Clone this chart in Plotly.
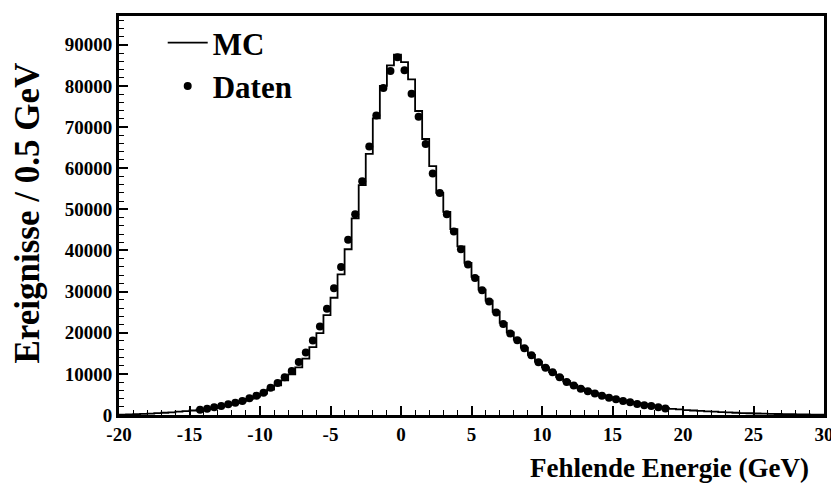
import plotly.graph_objects as go

# ---- data ----
bin_width = 0.5
mc_centers = [-19.75 + 0.5 * i for i in range(100)]
mc_values = [
    100, 150, 200, 280, 350, 450, 550, 650, 800, 950,
    1100, 1300, 1500, 1800, 2100, 2500, 2900, 3300, 3900, 4500,
    5200, 6200, 7200, 8400, 9900, 11600, 13700, 16500, 19900, 24300,
    28500, 34200, 40300, 47800, 55900, 63500, 72100, 80000, 85000, 87600,
    85800, 81600, 73900, 67100, 60500, 54000, 49400, 45200, 41000, 37000,
    33600, 30500, 27800, 25100, 22400, 20100, 18300, 16400, 14600, 13000,
    11600, 10400, 9300, 8200, 7300, 6500, 5900, 5300, 4800, 4300,
    3800, 3400, 3100, 2800, 2500, 2200, 1900, 1700, 1500, 1350,
    1200, 1100, 1000, 900, 800, 700, 620, 550, 480, 420,
    370, 320, 280, 240, 210, 180, 150, 130, 110, 90,
]

data_centers = [-14.25 + 0.5 * i for i in range(67)]
data_values = [
    1300, 1500, 1900, 2200, 2600, 3000, 3400, 4100, 4700, 5400,
    6600, 7800, 9200, 10700, 12900, 15200, 18100, 21500, 25800, 30800,
    36000, 42600, 48800, 56800, 65300, 72800, 79500, 83600, 87000, 83800,
    78100, 72500, 65900, 58700, 54000, 48800, 44600, 40300, 36600, 33300,
    30300, 27600, 24900, 22100, 19800, 18200, 16200, 14500, 12800, 11500,
    10400, 9200, 8000, 7200, 6400, 5800, 5200, 4700, 4200, 3800,
    3400, 3100, 2700, 2400, 2200, 1900, 1600,
]

x_ticks = [-20, -15, -10, -5, 0, 5, 10, 15, 20, 25, 30]
x_tick_text = ["-20", "-15", "-10", "-5", "0", "5", "10", "15", "20", "25", "30"]
y_ticks = [0, 10000, 20000, 30000, 40000, 50000, 60000, 70000, 80000, 90000]
y_tick_text = ["0", "10000", "20000", "30000", "40000", "50000", "60000", "70000", "80000", "90000"]

# step-histogram outline from bin edges
step_x = [c - bin_width / 2 for c in mc_centers] + [mc_centers[-1] + bin_width / 2]
step_y = mc_values + [mc_values[-1]]

FONT = "Liberation Serif"

fig = go.Figure()
fig.add_trace(go.Scatter(
    x=step_x, y=step_y, mode="lines", line=dict(shape="hv", color="black", width=1.8),
    name="MC", legendgroup="mc",
))
fig.add_trace(go.Scatter(
    x=data_centers, y=data_values, mode="markers",
    marker=dict(color="black", size=8, symbol="circle"),
    name="Daten", legendgroup="data",
))

axis_common = dict(
    showgrid=False, zeroline=False, showline=True, linecolor="black", linewidth=3,
    mirror=True, ticks="inside", tickcolor="black", tickwidth=1.5,
    tickfont=dict(family=FONT, size=19, color="black", weight="bold"),
)

fig.update_layout(
    width=831, height=484,
    margin=dict(l=111, r=13, t=5, b=77),
    paper_bgcolor="white", plot_bgcolor="white",
    showlegend=True,
    legend=dict(
        x=0.062, y=1.0, xanchor="left", yanchor="top",
        font=dict(family=FONT, size=31, color="black", weight="bold"),
        bgcolor="rgba(0,0,0,0)", itemwidth=40, tracegroupgap=0,
    ),
    xaxis=dict(
        range=[-20, 30], tickvals=x_ticks, ticktext=x_tick_text, ticklen=9,
        minor=dict(dtick=1, ticklen=5, ticks="inside", tickcolor="black", tickwidth=1.2),
        **axis_common,
    ),
    yaxis=dict(
        range=[0, 97000], tickvals=y_ticks, ticktext=y_tick_text, ticklen=9,
        minor=dict(dtick=2000, ticklen=5, ticks="inside", tickcolor="black", tickwidth=1.2),
        **axis_common,
    ),
    annotations=[
        dict(text="Fehlende Energie (GeV)", xref="paper", yref="paper", x=1, y=0,
             xanchor="right", yanchor="middle", xshift=-13, yshift=-53, showarrow=False,
             font=dict(family=FONT, size=27, color="black", weight="bold")),
        dict(text="Ereignisse / 0.5 GeV", xref="paper", yref="paper", x=0, y=0.5,
             xanchor="center", yanchor="middle", xshift=-92, yshift=2, textangle=-90,
             showarrow=False,
             font=dict(family=FONT, size=35, color="black", weight="bold")),
    ],
)

fig.write_html("out.html")
